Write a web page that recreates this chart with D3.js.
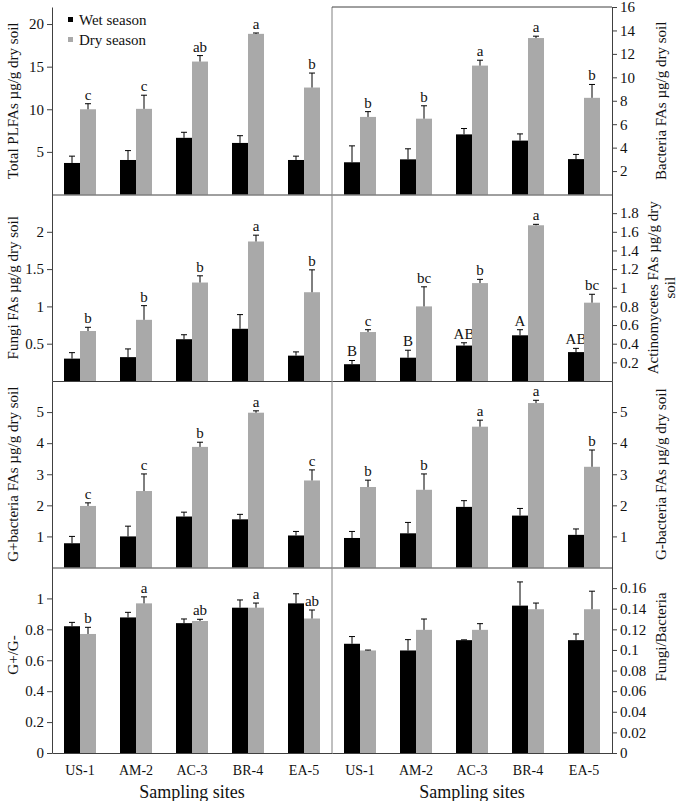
<!DOCTYPE html>
<html>
<head>
<meta charset="utf-8">
<script src="https://cdn.jsdelivr.net/npm/d3@7"></script>
<style>
  body { margin: 0; background: #fff; }
  text { font-family: "Liberation Serif", "Times New Roman", serif; fill: #111; }
</style>
</head>
<body>
<div id="chart"></div>
<script>

const sites = ['US-1', 'AM-2', 'AC-3', 'BR-4', 'EA-5'];
const seasons = ['Wet season', 'Dry season'];

// Total PLFAs
const totalWet = [3.7, 4.05, 6.65, 6.05, 4.05];
const totalWetErr = [0.8, 1.1, 0.65, 0.85, 0.45];
const totalDry = [10.0, 10.05, 15.6, 18.85, 12.55];
const totalDryErr = [0.65, 1.6, 0.7, 0.1, 1.7];
const totalDryLetters = ['c', 'c', 'ab', 'a', 'b'];

// Bacteria FAs
const bactWet = [2.75, 3.0, 5.13, 4.6, 3.02];
const bactWetErr = [1.4, 0.9, 0.5, 0.57, 0.4];
const bactDry = [6.62, 6.47, 11.0, 13.35, 8.25];
const bactDryErr = [0.45, 1.1, 0.46, 0.16, 1.14];
const bactDryLetters = ['b', 'b', 'a', 'a', 'b'];

// Fungi FAs
const fungiWet = [0.3, 0.32, 0.56, 0.7, 0.34];
const fungiWetErr = [0.08, 0.11, 0.06, 0.19, 0.05];
const fungiDry = [0.67, 0.82, 1.32, 1.87, 1.19];
const fungiDryErr = [0.05, 0.19, 0.09, 0.085, 0.3];
const fungiDryLetters = ['b', 'b', 'b', 'a', 'b'];

// Actinomycetes FAs
const actWet = [0.18, 0.25, 0.38, 0.49, 0.31];
const actWetErr = [0.04, 0.08, 0.03, 0.06, 0.04];
const actDry = [0.525, 0.8, 1.05, 1.67, 0.84];
const actDryErr = [0.025, 0.21, 0.04, 0.01, 0.09];
const actWetLetters = ['B', 'B', 'AB', 'A', 'AB'];
const actDryLetters = ['c', 'bc', 'b', 'a', 'bc'];

// G+ bacteria FAs
const gposWet = [0.78, 1.0, 1.64, 1.55, 1.03];
const gposWetErr = [0.22, 0.33, 0.14, 0.16, 0.13];
const gposDry = [1.98, 2.46, 3.88, 4.98, 2.8];
const gposDryErr = [0.1, 0.55, 0.15, 0.06, 0.34];
const gposDryLetters = ['c', 'c', 'b', 'a', 'c'];

// G- bacteria FAs
const gnegWet = [0.95, 1.1, 1.95, 1.67, 1.05];
const gnegWetErr = [0.21, 0.35, 0.2, 0.23, 0.19];
const gnegDry = [2.59, 2.5, 4.53, 5.29, 3.24];
const gnegDryErr = [0.22, 0.51, 0.21, 0.09, 0.54];
const gnegDryLetters = ['b', 'b', 'a', 'a', 'b'];

// G+/G-
const ratioWet = [0.82, 0.877, 0.84, 0.94, 0.968];
const ratioWetErr = [0.025, 0.033, 0.027, 0.05, 0.062];
const ratioDry = [0.77, 0.968, 0.854, 0.94, 0.87];
const ratioDryErr = [0.043, 0.042, 0.011, 0.03, 0.055];
const ratioDryLetters = ['b', 'a', 'ab', 'a', 'ab'];

// Fungi/Bacteria
const fbWet = [0.106, 0.0995, 0.1095, 0.143, 0.1095];
const fbWetErr = [0.007, 0.0105, 0.0003, 0.023, 0.006];
const fbDry = [0.0995, 0.1195, 0.1195, 0.1395, 0.1395];
const fbDryErr = [0.0004, 0.0105, 0.006, 0.006, 0.0175];

const totalTicks = [5, 10, 15, 20];
const bactTicks = [2, 4, 6, 8, 10, 12, 14, 16];
const fungiTicks = [0.5, 1, 1.5, 2];
const actTicks = [0.2, 0.4, 0.6, 0.8, 1, 1.2, 1.4, 1.6, 1.8];
const gTicks = [1, 2, 3, 4, 5];
const ratioTicks = [0, 0.2, 0.4, 0.6, 0.8, 1];
const fbTicks = [0, 0.02, 0.04, 0.06, 0.08, 0.1, 0.12, 0.14, 0.16];

const svgWidth = 685;
const svgHeight = 801;
const colLeft = [52, 332];
const colRight = [332, 612];
const rowTop = [7, 194.5, 381, 567.5];
const rowBottom = [194.5, 381, 567.5, 753];
const wetColor = '#000000';
const dryColor = '#a9a9a9';
const axisColor = '#404040';
const barWidth = 16;

const panels = [
    { col: 0, row: 0, max: 22, ticks: totalTicks, wet: totalWet, wetErr: totalWetErr, dry: totalDry, dryErr: totalDryErr, dryLetters: totalDryLetters, title: ['Total PLFAs µg/g dry soil'] },
    { col: 1, row: 0, max: 16, ticks: bactTicks, wet: bactWet, wetErr: bactWetErr, dry: bactDry, dryErr: bactDryErr, dryLetters: bactDryLetters, title: ['Bacteria FAs µg/g dry soil'] },
    { col: 0, row: 1, max: 2.5, ticks: fungiTicks, wet: fungiWet, wetErr: fungiWetErr, dry: fungiDry, dryErr: fungiDryErr, dryLetters: fungiDryLetters, title: ['Fungi FAs µg/g dry soil'] },
    { col: 1, row: 1, max: 2, ticks: actTicks, wet: actWet, wetErr: actWetErr, dry: actDry, dryErr: actDryErr, wetLetters: actWetLetters, dryLetters: actDryLetters, title: ['Actinomycetes FAs µg/g dry', 'soil'] },
    { col: 0, row: 2, max: 6, ticks: gTicks, wet: gposWet, wetErr: gposWetErr, dry: gposDry, dryErr: gposDryErr, dryLetters: gposDryLetters, title: ['G+bacteria FAs µg/g dry soil'] },
    { col: 1, row: 2, max: 6, ticks: gTicks, wet: gnegWet, wetErr: gnegWetErr, dry: gnegDry, dryErr: gnegDryErr, dryLetters: gnegDryLetters, title: ['G-bacteria FAs µg/g dry soil'] },
    { col: 0, row: 3, max: 1.2, ticks: ratioTicks, wet: ratioWet, wetErr: ratioWetErr, dry: ratioDry, dryErr: ratioDryErr, dryLetters: ratioDryLetters, title: ['G+/G-'], titleY: 655 },
    { col: 1, row: 3, max: 0.18, ticks: fbTicks, wet: fbWet, wetErr: fbWetErr, dry: fbDry, dryErr: fbDryErr, title: ['Fungi/Bacteria'], titleY: 637 }
];

const svg = d3.select('#chart')
    .append('svg')
    .attr('width', svgWidth)
    .attr('height', svgHeight)
    .style('background', '#fff');

const drawPanel = (p) => {
    const xRange = p.col === 0 ? colLeft : colRight;
    const top = rowTop[p.row];
    const bottom = rowBottom[p.row];

    const xScale = d3.scaleBand()
        .domain(sites)
        .range(xRange)
        .padding(0);

    const yScale = d3.scaleLinear()
        .domain([0, p.max])
        .range([bottom, top]);

    const g = svg.append('g');
    const center = s => xScale(s) + xScale.bandwidth() / 2;

    const series = [
        { values: p.wet, err: p.wetErr, letters: p.wetLetters, color: wetColor, offset: -barWidth },
        { values: p.dry, err: p.dryErr, letters: p.dryLetters, color: dryColor, offset: 0 }
    ];

    series.forEach(s => {
        const rows = sites.map((site, i) => ({ site, v: s.values[i], e: s.err[i], l: s.letters ? s.letters[i] : null }));

        g.append('g').selectAll('rect')
            .data(rows)
            .join('rect')
            .attr('x', d => center(d.site) + s.offset)
            .attr('y', d => yScale(d.v))
            .attr('width', barWidth)
            .attr('height', d => bottom - yScale(d.v))
            .attr('fill', s.color);

        const errs = g.append('g')
            .attr('stroke', '#000')
            .attr('stroke-width', 1);

        errs.selectAll('line.stem')
            .data(rows)
            .join('line')
            .attr('class', 'stem')
            .attr('x1', d => center(d.site) + s.offset + barWidth / 2)
            .attr('x2', d => center(d.site) + s.offset + barWidth / 2)
            .attr('y1', d => yScale(d.v))
            .attr('y2', d => yScale(d.v + d.e));

        errs.selectAll('line.cap')
            .data(rows)
            .join('line')
            .attr('class', 'cap')
            .attr('x1', d => center(d.site) + s.offset + barWidth / 2 - 3)
            .attr('x2', d => center(d.site) + s.offset + barWidth / 2 + 3)
            .attr('y1', d => yScale(d.v + d.e))
            .attr('y2', d => yScale(d.v + d.e));

        if (s.letters) {
            g.append('g').selectAll('text')
                .data(rows)
                .join('text')
                .attr('x', d => center(d.site) + s.offset + barWidth / 2)
                .attr('y', d => yScale(d.v + d.e) - 4)
                .attr('text-anchor', 'middle')
                .attr('font-size', 15)
                .text(d => d.l);
        }
    });

    // y axis
    const axis = p.col === 0 ? d3.axisLeft(yScale) : d3.axisRight(yScale);
    const yAxisGroup = g.append('g')
        .attr('transform', `translate(${p.col === 0 ? colLeft[0] : colRight[1]}, 0)`)
        .call(axis.tickValues(p.ticks)
            .tickFormat(d => d)
            .tickSize(5)
            .tickSizeOuter(0)
            .tickPadding(3));
    yAxisGroup.selectAll('path, line').attr('stroke', axisColor);
    yAxisGroup.selectAll('text')
        .attr('font-size', 15)
        .attr('font-family', '"Liberation Serif", serif')
        .attr('fill', '#111');

    // axis title
    const tx = p.col === 0 ? 13 : 661;
    const ty = p.titleY || (top + bottom) / 2;
    p.title.forEach((line, i) => {
        const lx = tx + (i - (p.title.length - 1) / 2) * 17;
        g.append('text')
            .attr('transform', `translate(${lx}, ${ty}) rotate(-90)`)
            .attr('text-anchor', 'middle')
            .attr('dominant-baseline', 'central')
            .attr('font-size', 15)
            .text(line);
    });

    // x axis
    const xAxisGroup = g.append('g')
        .attr('transform', `translate(0, ${bottom})`)
        .call(d3.axisBottom(xScale).tickSize(0).tickSizeOuter(0).tickPadding(12));
    xAxisGroup.select('.domain').attr('stroke', axisColor);
    if (p.row === 3) {
        xAxisGroup.selectAll('text')
            .attr('font-size', 14)
            .attr('font-family', '"Liberation Serif", serif')
            .attr('fill', '#111');
        g.append('text')
            .attr('x', (xRange[0] + xRange[1]) / 2)
            .attr('y', 798)
            .attr('text-anchor', 'middle')
            .attr('font-size', 18)
            .text('Sampling sites');
    } else {
        xAxisGroup.selectAll('text').remove();
    }
};

panels.forEach(drawPanel);

// frame lines: divider and top of the right column
svg.append('line')
    .attr('x1', colRight[0]).attr('x2', colRight[0])
    .attr('y1', rowTop[0]).attr('y2', rowBottom[3])
    .attr('stroke', '#808080');
svg.append('line')
    .attr('x1', colRight[0]).attr('x2', colRight[1])
    .attr('y1', rowTop[0]).attr('y2', rowTop[0])
    .attr('stroke', axisColor);

// legend
const legend = svg.append('g');
seasons.forEach((name, i) => {
    legend.append('rect')
        .attr('x', 68)
        .attr('y', 17 + i * 20)
        .attr('width', 5)
        .attr('height', 5)
        .attr('fill', i === 0 ? wetColor : dryColor);
    legend.append('text')
        .attr('x', 79)
        .attr('y', 20 + i * 20)
        .attr('dominant-baseline', 'central')
        .attr('font-size', 15)
        .text(name);
});

</script>
</body>
</html>
